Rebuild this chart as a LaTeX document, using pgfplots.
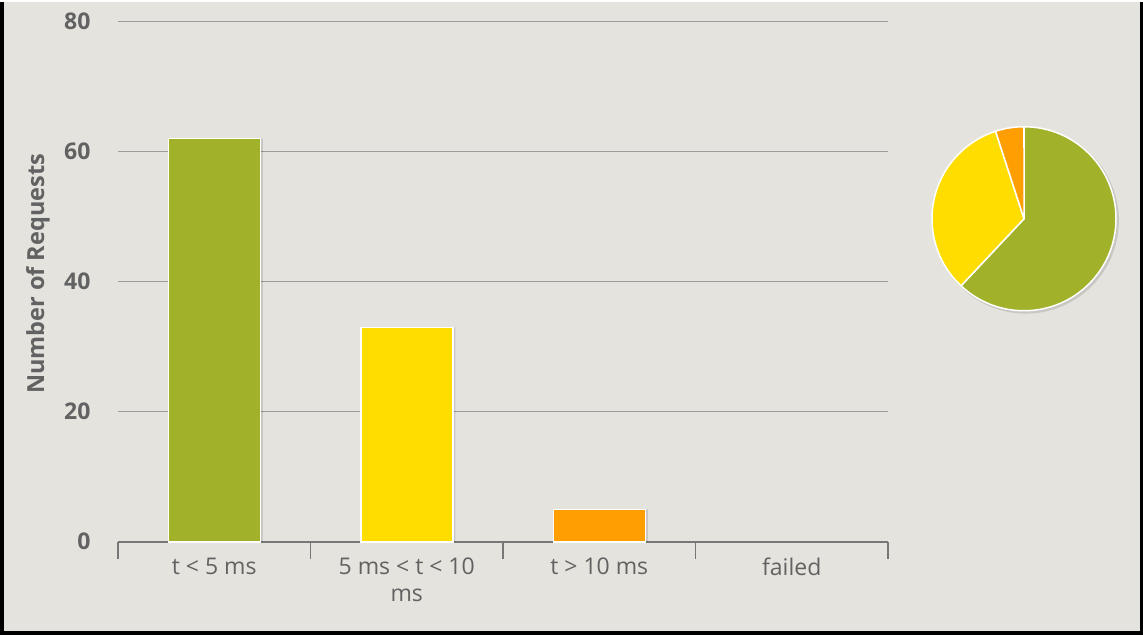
\documentclass[border=0pt]{standalone}
\usepackage{pgfplots}
\pgfplotsset{compat=1.18}
\usepackage{pgfplotstable}
\usepackage{fontspec}
\setmainfont{Open Sans}
\definecolor{bg}{HTML}{E5E3DE}
\definecolor{cgreen}{HTML}{A1B22A}
\definecolor{cyellow}{HTML}{FFDD00}
\definecolor{corange}{HTML}{FF9E00}
\definecolor{txt}{HTML}{626262}
\definecolor{gridc}{HTML}{9C9C9C}
\definecolor{axc}{HTML}{777777}

\pgfplotstableread{
x count
0 62
1 33
2 5
3 0
}\reqdata

\pgfplotstablegetelem{0}{count}\of\reqdata \edef\vA{\pgfplotsretval}
\pgfplotstablegetelem{1}{count}\of\reqdata \edef\vB{\pgfplotsretval}
\pgfplotstablegetelem{2}{count}\of\reqdata \edef\vC{\pgfplotsretval}
\pgfplotstablegetelem{3}{count}\of\reqdata \edef\vD{\pgfplotsretval}
\pgfmathsetmacro\tot{\vA+\vB+\vC+\vD}
\pgfmathsetmacro\aZ{90}
\pgfmathsetmacro\aA{90-360*(\vA/\tot)}
\pgfmathsetmacro\aB{\aA-360*(\vB/\tot)}
\pgfmathsetmacro\aC{\aB-360*(\vC/\tot)}

\begin{document}
\begin{tikzpicture}[x=1pt,y=1pt]
\fill[bg] (0,0) rectangle (1143,633);
\begin{axis}[
  at={(118pt,93pt)}, anchor=south west,
  scale only axis, width=770pt, height=520pt,
  xmin=-0.5, xmax=3.5, ymin=0, ymax=80,
  axis lines*=left,
  x axis line style={draw=axc, line width=1.6pt},
  y axis line style={draw=none},
  ytick={0,20,40,60,80},
  ytick style={draw=none},
  ymajorgrids, grid style={draw=gridc, line width=1.3pt},
  xtick={0,1,2,3},
  xticklabels={{t < 5 ms},{5 ms < t < 10\\ms},{t > 10 ms},{failed}},
  minor xtick={-0.5,0.5,1.5,2.5,3.5},
  major tick length=0pt,
  minor tick length=17pt,
  tick align=outside,
  xtick style={draw=axc, line width=1.6pt},
  /pgf/number format/assume math mode=true,
  yticklabel style={font=\fontsize{23}{26}\selectfont\bfseries, text=txt, anchor=east, xshift=-24pt},
  xticklabel style={font=\fontsize{23}{27}\selectfont, text=txt, align=center, anchor=north, yshift=-13pt},
  ylabel={Number of Requests},
  ylabel style={font=\fontsize{23.5}{26}\selectfont\bfseries, text=txt, at={(axis description cs:-0.104,0.515)}, anchor=center, rotate=0},
  clip=false,
]
% shadows
\addplot[ybar, bar width=92pt, bar shift=2.5pt, fill=black, fill opacity=0.12, draw=none, restrict x to domain=-0.1:2.1] table[x=x, y=count] {\reqdata};
\addplot[ybar, bar width=92pt, bar shift=0pt, fill=cgreen, draw=white, line width=1.5pt, restrict x to domain=-0.1:0.1] table[x=x, y=count] {\reqdata};
\addplot[ybar, bar width=92pt, bar shift=0pt, fill=cyellow, draw=white, line width=1.5pt, restrict x to domain=0.9:1.1] table[x=x, y=count] {\reqdata};
\addplot[ybar, bar width=92pt, bar shift=0pt, fill=corange, draw=white, line width=1.5pt, restrict x to domain=1.9:2.1] table[x=x, y=count] {\reqdata};
\addplot[ybar, bar width=92pt, bar shift=0pt, fill=none, draw=none, restrict x to domain=2.9:3.1] table[x=x, y=count] {\reqdata};
\end{axis}
\begin{axis}[
  at={(1024pt,416pt)}, anchor=center,
  scale only axis, width=184pt, height=184pt,
  xmin=-1, xmax=1, ymin=-1, ymax=1,
  hide axis, clip=false,
]
\fill[black, opacity=0.12] (axis cs:0.02,-0.02) circle[radius=93pt];
\filldraw[fill=cgreen, draw=white, line width=1.5pt, line join=round] (axis cs:0,0) -- (axis cs:{cos(\aZ)},{sin(\aZ)}) arc[start angle=\aZ, end angle=\aA, radius=92pt] -- cycle;
\filldraw[fill=cyellow, draw=white, line width=1.5pt, line join=round] (axis cs:0,0) -- (axis cs:{cos(\aA)},{sin(\aA)}) arc[start angle=\aA, end angle=\aB, radius=92pt] -- cycle;
\filldraw[fill=corange, draw=white, line width=1.5pt, line join=round] (axis cs:0,0) -- (axis cs:{cos(\aB)},{sin(\aB)}) arc[start angle=\aB, end angle=\aC, radius=92pt] -- cycle;
\end{axis}
\draw[black, line width=3.5pt] (1.75,633) -- (1.75,1.75) -- (1141.25,1.75) -- (1141.25,633);
\useasboundingbox (0,0) rectangle (1143,633);
\end{tikzpicture}
\end{document}
